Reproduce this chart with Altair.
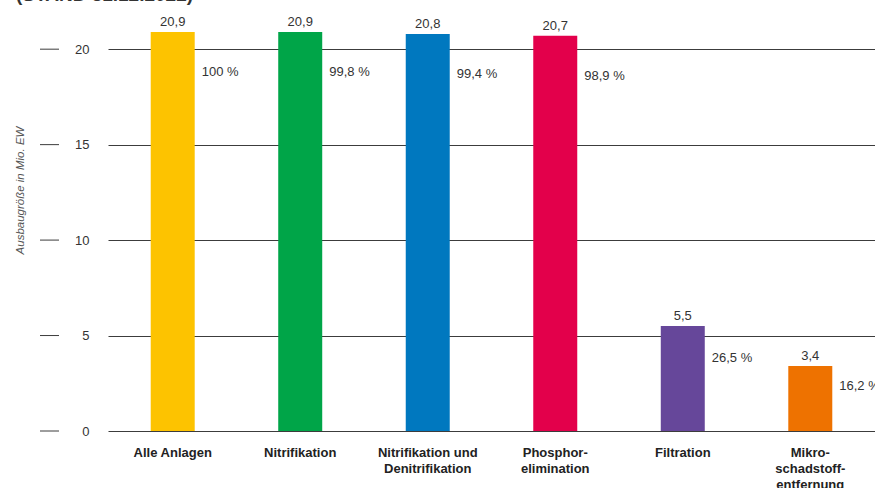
import altair as alt
import pandas as pd

# Reinigungsstufen der Kläranlagen (Ausbaugröße in Mio. Einwohnerwerten)
stufen = [
    "Alle Anlagen",
    "Nitrifikation",
    "Nitrifikation und\nDenitrifikation",
    "Phosphor-\nelimination",
    "Filtration",
    "Mikro-\nschadstoff-\nentfernung",
]
ausbau = [20.9, 20.9, 20.8, 20.7, 5.5, 3.4]
anteil = [100, 99.8, 99.4, 98.9, 26.5, 16.2]
farben = ["#FDC300", "#00A548", "#0078BF", "#E3004B", "#66479A", "#EE7200"]
y_ticks = [0, 5, 10, 15, 20]
titel = "(STAND 31.12.2022)"

FONT = "Liberation Sans"
TEXT = "#333333"
LINE = "#3c3c3c"

df = pd.DataFrame({"stufe": stufen, "wert": ausbau, "anteil": anteil})

x_enc = alt.X(
    "stufe:N",
    sort=stufen,
    title=None,
    scale=alt.Scale(paddingInner=0.655, paddingOuter=0.335),
    axis=alt.Axis(
        labelAngle=0,
        labelExpr="split(datum.label, '\\n')",
        labelFont=FONT,
        labelFontSize=13,
        labelFontWeight="bold",
        labelColor="#222222",
        labelLineHeight=16,
        labelPadding=15,
        labelBaseline="top",
        ticks=False,
        domain=False,
    ),
)

y_scale = alt.Scale(domain=[0, 22], nice=False)
y_title = "Ausbaugröße in Mio. EW"
y_axis = alt.Axis(
    values=y_ticks,
    titleFont=FONT,
    titleFontSize=11.5,
    titleFontStyle="italic",
    titleFontWeight="normal",
    titleColor="#555555",
    titleX=-83,
    titleY=179,
    grid=True,
    gridColor=LINE,
    gridWidth=1,
    domain=False,
    ticks=False,
    labelPadding=19,
    labelFont=FONT,
    labelFontSize=13,
    labelColor=TEXT,
)


def y_of(field):
    return alt.Y(field, scale=y_scale, axis=y_axis, title=y_title)


base = alt.Chart(df).transform_calculate(
    wert_txt="replace(format(datum.wert, '.1f'), '.', ',')",
    anteil_txt="replace(format(datum.anteil, '.1~f'), '.', ',') + ' %'",
    pos="datum.wert - min(2.1, datum.wert * 0.3)",
)

bars = base.mark_bar().encode(
    x=x_enc,
    y=y_of("wert:Q"),
    color=alt.Color("stufe:N", scale=alt.Scale(domain=stufen, range=farben), legend=None),
)

wert_labels = base.mark_text(
    font=FONT, fontSize=13, color=TEXT, baseline="middle", dy=-10
).encode(
    x=x_enc,
    y=y_of("wert:Q"),
    text="wert_txt:N",
)

anteil_labels = base.mark_text(
    font=FONT, fontSize=13, color=TEXT, baseline="middle", align="left", dx=29
).encode(
    x=x_enc,
    y=y_of("pos:Q"),
    text="anteil_txt:N",
)

# short tick strokes to the left of the y labels
tick_strokes = alt.Chart(pd.DataFrame({"wert": y_ticks})).mark_rule(
    color=LINE, strokeWidth=1
).encode(
    y=y_of("wert:Q"),
    x=alt.value(-68),
    x2=alt.value(-49),
)

titel_text = alt.Chart(pd.DataFrame({"titel": [titel]})).mark_text(
    font=FONT, fontSize=19, fontWeight="bold", color=TEXT,
    align="left", baseline="alphabetic",
).encode(
    x=alt.value(-92),
    y=alt.value(-10),
    text="titel:N",
)

chart = alt.layer(bars, wert_labels, anteil_labels, tick_strokes, titel_text).properties(
    width=767,
    height=420,
    autosize=alt.AutoSizeParams(type="none"),
    padding={"left": 108, "top": 11, "right": 0, "bottom": 57},
).configure(font=FONT).configure_view(stroke=None)

chart.save("out.html", embed_options={"renderer": "svg", "actions": False})
